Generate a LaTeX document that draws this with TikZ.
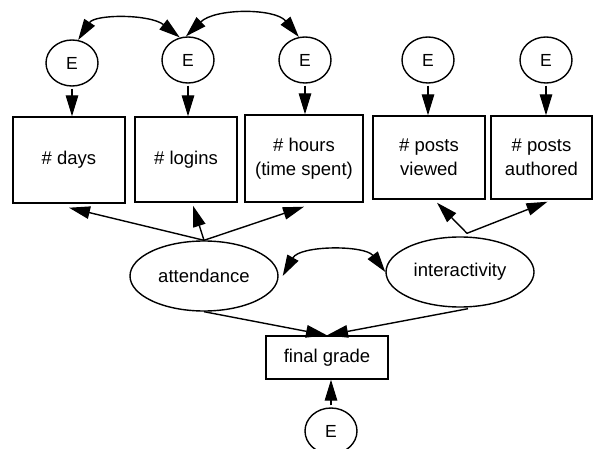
\documentclass[tikz,border=0pt]{standalone}
\usepackage{fontspec}
\setmainfont{Liberation Sans}
\usetikzlibrary{shapes.geometric,arrows.meta}
\begin{document}
\begin{tikzpicture}[x=1pt,y=-1pt,
  lw/.style={line width=1.4pt},
  tip/.tip={Triangle[length=21pt,width=12.5pt]},
  errterm/.style={draw,lw,ellipse,minimum width=52pt,minimum height=46pt,inner sep=0pt,
    font=\fontsize{17.5}{20}\selectfont},
  indicator/.style={draw,lw,rectangle,inner sep=0pt,align=center,
    font=\fontsize{18.5}{24}\selectfont},
  latent/.style={draw,lw,ellipse,inner sep=0pt,minimum width=148pt,minimum height=70pt,
    font=\fontsize{18.5}{22}\selectfont},
  conn/.style={lw,-tip},
  cov/.style={lw,tip-tip},
]
\useasboundingbox (0,0) rectangle (594,449);
\clip (0,0) rectangle (594,449);

% error terms
\node[errterm] (e1) at (72,63) {E};
\node[errterm] (e2) at (188,60) {E};
\node[errterm] (e3) at (305,60) {E};
\node[errterm] (e4) at (428,60) {E};
\node[errterm] (e5) at (546,60) {E};
\node[errterm] (e6) at (331,431) {E};

% observed indicators
\node[indicator,minimum width=112pt,minimum height=86pt] (days) at (69,160) {\# days};
\node[indicator,minimum width=102pt,minimum height=85pt] (logins) at (186,159.5) {\# logins};
\node[indicator,minimum width=118pt,minimum height=87pt] (hours) at (304,158.5) {\# hours\\(time spent)};
\node[indicator,minimum width=112pt,minimum height=83pt] (viewed) at (429,157.5) {\# posts\\viewed};
\node[indicator,minimum width=101pt,minimum height=83pt] (authored) at (541.5,157.5) {\# posts\\authored};

% latent factors
\node[latent] (att) at (204,276) {attendance};
\node[latent] (inter) at (460,272) {interactivity};

% outcome
\node[indicator,minimum width=122pt,minimum height=43pt] (grade) at (327,357.5) {final grade};

% error terms to indicators
\foreach \e/\b in {e1/days,e2/logins,e3/hours,e4/viewed,e5/authored}
  \draw[conn,shorten <=2pt] (\e.south) -- (\e.south |- \b.north);
\draw[conn,shorten <=2pt] (e6.north) -- (e6.north |- grade.south);

% loadings
\draw[conn] (att.north) -- ([yshift=-4pt]days.south);
\draw[conn] (att.north) -- ([xshift=7pt,yshift=-3pt]logins.south);
\draw[conn] (att.north) -- ([yshift=-4pt]hours.south);
\draw[conn] ([xshift=7pt,yshift=3pt]inter.north) -- ([xshift=8pt,yshift=-3pt]viewed.south);
\draw[conn] ([xshift=7pt,yshift=3pt]inter.north) -- ([xshift=6pt,yshift=-2pt]authored.south);

% structural paths
\draw[conn] (att.south) -- (grade.north);
\draw[conn] ([xshift=8pt,yshift=-1pt]inter.south) -- (grade.north);

% covariances
\draw[cov] (e1.75) .. controls (95,14) and (150,14) .. (e2.110);
\draw[cov] (e2.95) .. controls (215,8) and (275,8) .. (e3.105);
\draw[cov] ([xshift=4pt]att.east) .. controls (300,245) and (365,245) .. (inter.west);
\end{tikzpicture}
\end{document}
